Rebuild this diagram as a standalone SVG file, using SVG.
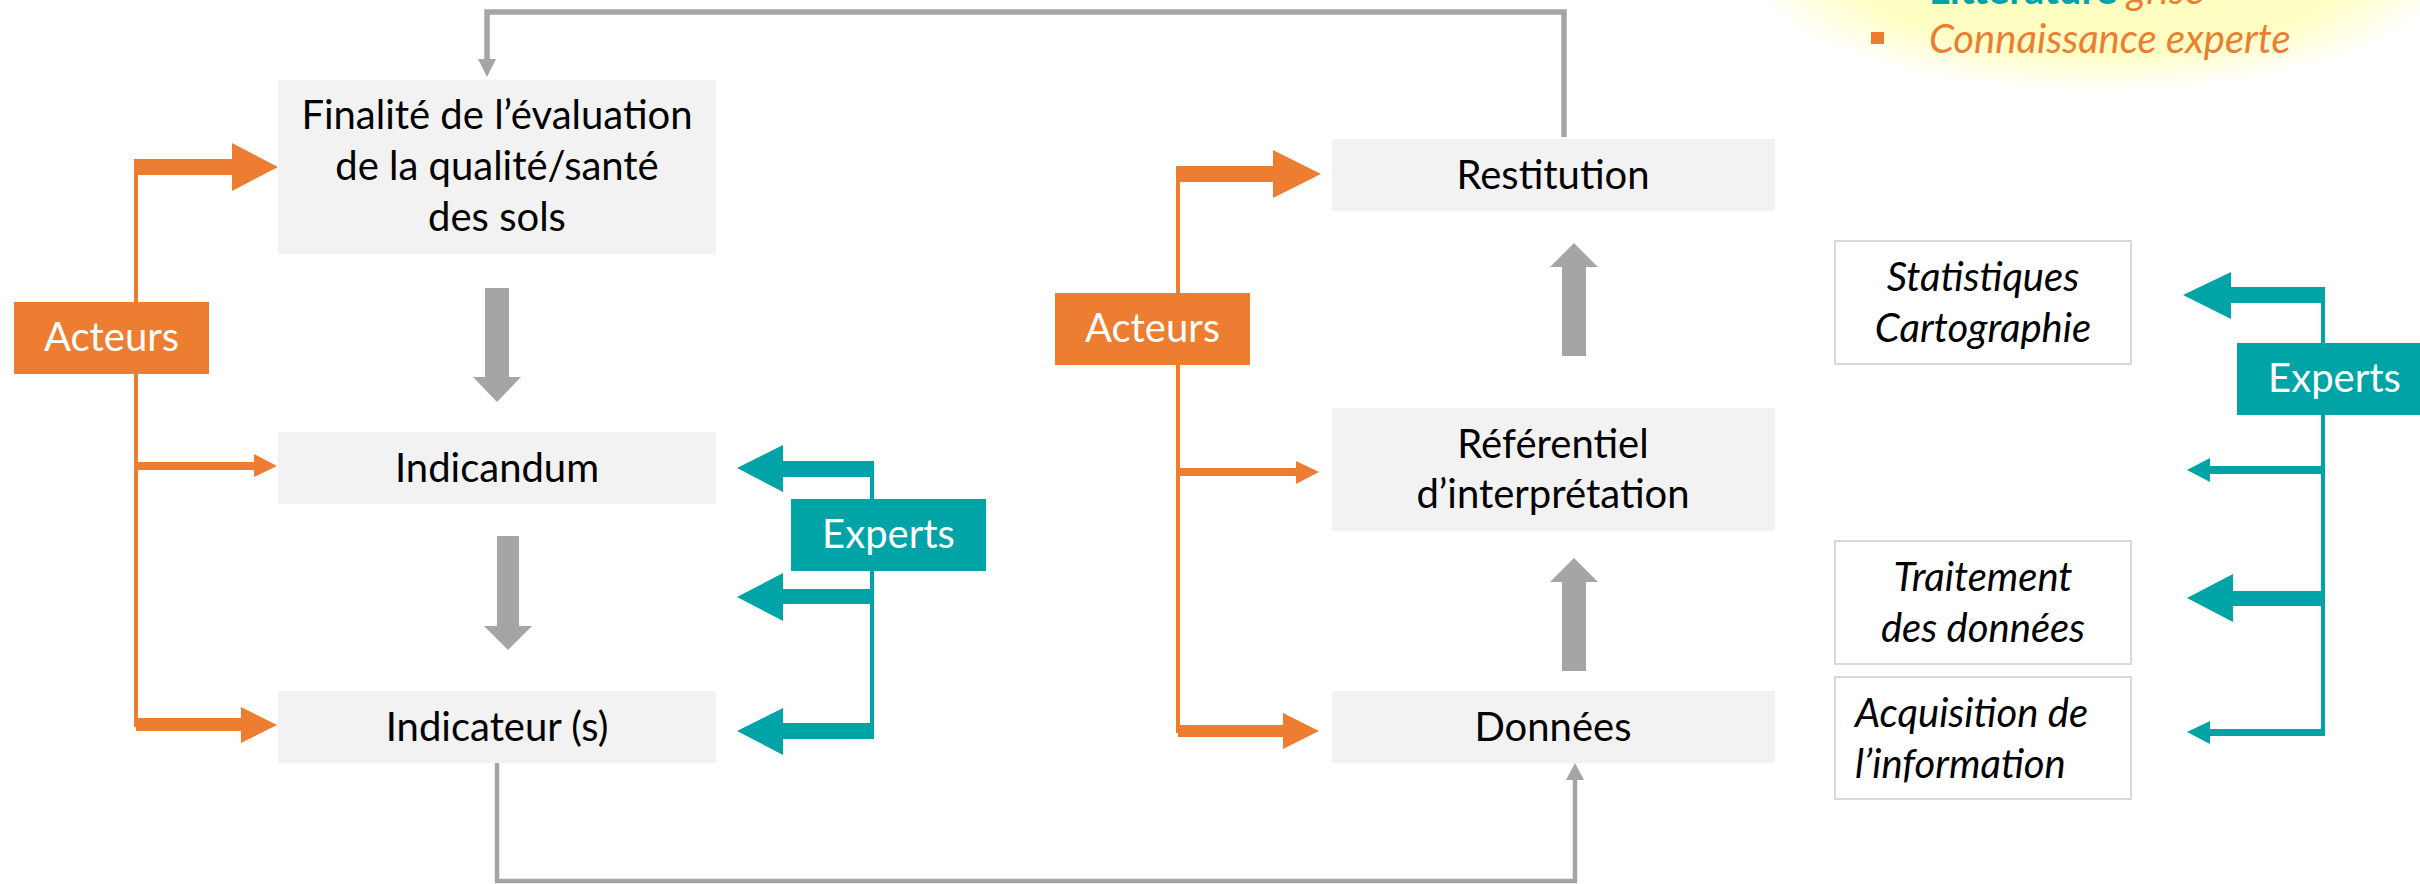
<svg xmlns="http://www.w3.org/2000/svg" width="2420" height="884" viewBox="0 0 2420 884">
<defs>
<radialGradient id="yel" cx="0.5" cy="0.5" r="0.5">
<stop offset="0" stop-color="#FFFFC0"/>
<stop offset="0.7" stop-color="#FFFFC4"/>
<stop offset="1" stop-color="#FFFFFF"/>
</radialGradient>
<style>
.box{fill:#F2F2F2}
.wbox{fill:#FFFFFF;stroke:#D9D9D9;stroke-width:2}
.t{font-family:Lato,"Liberation Sans",sans-serif;font-size:40px;fill:#000;text-anchor:middle}
.ti{font-family:Lato,"Liberation Sans",sans-serif;font-size:40px;font-style:italic;fill:#000;text-anchor:middle}
.tis{font-family:Lato,"Liberation Sans",sans-serif;font-size:40px;font-style:italic;fill:#000;text-anchor:start}
.wt{font-family:Lato,"Liberation Sans",sans-serif;font-size:40px;fill:#FFF;text-anchor:middle}
.or{fill:#ED7D31}
.te{fill:#00A4A6}
.gr{fill:#A5A5A5}
.ol{stroke:#ED7D31;stroke-width:4;fill:none}
.tl{stroke:#00A4A6;stroke-width:4;fill:none}
.gl{stroke:#A5A5A5;fill:none}
</style>
</defs>
<rect width="2420" height="884" fill="#FFFFFF"/>
<g id="legend">
<ellipse cx="2100" cy="-35" rx="355" ry="126" fill="url(#yel)"/>
<text x="1929" y="4" font-family="Lato,'Liberation Sans',sans-serif" font-size="40" font-weight="bold" fill="#00A4A6">Littérature <tspan fill="#ED7D31" font-style="italic" font-weight="normal">grise</tspan></text>
<rect x="1871" y="32" width="13" height="12" fill="#ED7D31"/>
<text x="1929" y="53" font-family="Lato,'Liberation Sans',sans-serif" font-size="40" font-style="italic" fill="#ED7D31">Connaissance experte</text>
</g>
<g id="connectors">
<path class="gl" stroke-width="5.5" d="M1564 137 V12 H487 V60"/>
<polygon class="gr" points="478,59 496,59 487,77"/>
<path class="gl" stroke-width="4.5" d="M497 763 V881 H1575 V779"/>
<polygon class="gr" points="1566,780 1584,780 1575,763"/>
<polygon class="gr" points="485,288 509,288 509,377 521,377 497,402 473,377 485,377"/>
<polygon class="gr" points="497,536 519,536 519,626 532,626 508,650 484,626 497,626"/>
<polygon class="gr" points="1562,356 1586,356 1586,267 1598,267 1574,243 1550,267 1562,267"/>
<polygon class="gr" points="1562,671 1586,671 1586,582 1598,582 1574,558 1550,582 1562,582"/>
<path class="ol" d="M136 159 V727"/>
<polygon class="or" points="134,159 232,159 232,143 278,167 232,191 232,175 134,175"/>
<polygon class="or" points="136,462 254,462 254,454 277,466 254,477 254,470 136,470"/>
<polygon class="or" points="136,718 241,718 241,707 277,725 241,743 241,731 136,731"/>
<path class="ol" d="M1178 166 V733"/>
<polygon class="or" points="1176,166 1273,166 1273,150 1321,174 1273,198 1273,182 1176,182"/>
<polygon class="or" points="1178,468 1296,468 1296,461 1319,472 1296,484 1296,476 1178,476"/>
<polygon class="or" points="1178,725 1283,725 1283,713 1319,731 1283,749 1283,737 1178,737"/>
<path class="tl" d="M872 463 V737"/>
<polygon class="te" points="874,461 783,461 783,445 737,468 783,492 783,477 874,477"/>
<polygon class="te" points="874,589 783,589 783,573 737,597 783,621 783,604 874,604"/>
<polygon class="te" points="874,723 783,723 783,708 737,731 783,755 783,739 874,739"/>
<path class="tl" d="M2323 289 V734"/>
<polygon class="te" points="2325,287 2231,287 2231,272 2183,295 2231,319 2231,303 2325,303"/>
<polygon class="te" points="2323,466 2210,466 2210,458 2187,470 2210,482 2210,474 2323,474"/>
<polygon class="te" points="2325,591 2233,591 2233,574 2187,598 2233,622 2233,606 2325,606"/>
<polygon class="te" points="2325,729 2210,729 2210,721 2187,732 2210,744 2210,736 2325,736"/>
</g>
<g id="finalite">
<rect class="box" x="278" y="80" width="438" height="174"/>
<text class="t" x="497" y="129">Finalité de l’évaluation</text>
<text class="t" x="497" y="180">de la qualité/santé</text>
<text class="t" x="497" y="231">des sols</text>
</g>
<g id="indicandum">
<rect class="box" x="278" y="432" width="438" height="72"/>
<text class="t" x="497" y="482">Indicandum</text>
</g>
<g id="indicateur">
<rect class="box" x="278" y="691" width="438" height="72"/>
<text class="t" x="497" y="741">Indicateur (s)</text>
</g>
<g id="restitution">
<rect class="box" x="1332" y="139" width="443" height="72"/>
<text class="t" x="1553" y="189">Restitution</text>
</g>
<g id="referentiel">
<rect class="box" x="1332" y="408" width="443" height="123"/>
<text class="t" x="1553" y="458">Référentiel</text>
<text class="t" x="1553" y="508">d’interprétation</text>
</g>
<g id="donnees">
<rect class="box" x="1332" y="691" width="443" height="72"/>
<text class="t" x="1553" y="741">Données</text>
</g>
<g id="acteurs-left">
<rect class="or" x="14" y="302" width="195" height="72"/>
<text class="wt" x="111.5" y="351">Acteurs</text>
</g>
<g id="acteurs-mid">
<rect class="or" x="1055" y="293" width="195" height="72"/>
<text class="wt" x="1152.5" y="342">Acteurs</text>
</g>
<g id="experts-left">
<rect class="te" x="791" y="499" width="195" height="72"/>
<text class="wt" x="888.5" y="548">Experts</text>
</g>
<g id="experts-right">
<rect class="te" x="2237" y="343" width="195" height="72"/>
<text class="wt" x="2334.5" y="392">Experts</text>
</g>
<g id="statistiques">
<rect class="wbox" x="1835" y="241" width="296" height="123"/>
<text class="ti" x="1983" y="291">Statistiques</text>
<text class="ti" x="1983" y="342">Cartographie</text>
</g>
<g id="traitement">
<rect class="wbox" x="1835" y="541" width="296" height="123"/>
<text class="ti" x="1983" y="591">Traitement</text>
<text class="ti" x="1983" y="642">des données</text>
</g>
<g id="acquisition">
<rect class="wbox" x="1835" y="677" width="296" height="122"/>
<text class="tis" x="1855" y="727">Acquisition de</text>
<text class="tis" x="1855" y="778">l’information</text>
</g>
</svg>
